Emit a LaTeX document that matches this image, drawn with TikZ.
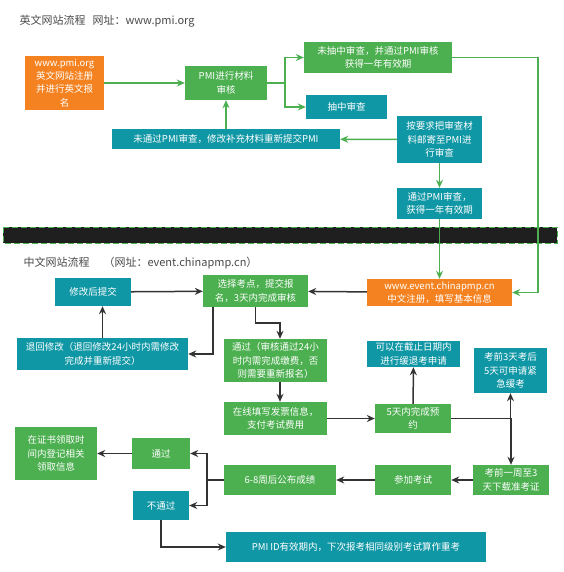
\documentclass[tikz,border=0pt]{standalone}
\usepackage{fontspec}
\setmainfont{Noto Sans CJK SC}
\usetikzlibrary{arrows.meta}
\definecolor{boxgreen}{HTML}{4CAF50}
\definecolor{boxteal}{HTML}{1097A5}
\definecolor{boxorange}{HTML}{F58220}
\definecolor{linegray}{HTML}{333333}
\definecolor{titlegray}{HTML}{4A4A4A}
\tikzset{
  flowbox/.style={rectangle, text=white, align=center, inner sep=1pt,
    font=\fontsize{9.5}{13.3}\selectfont},
  gbox/.style={flowbox, fill=boxgreen},
  tbox/.style={flowbox, fill=boxteal},
  obox/.style={flowbox, fill=boxorange},
  title/.style={anchor=west, text=titlegray, font=\fontsize{11}{13}\selectfont},
  glink/.style={draw=boxgreen, line width=1.5pt, -{Stealth[length=8pt,width=7pt]}},
  klink/.style={draw=linegray, line width=1.5pt, -{Stealth[length=8pt,width=7pt]}},
}
\begin{document}
\begin{tikzpicture}[x=1pt,y=-1pt]
      \useasboundingbox[fill=white] (0,0) rectangle (563,572);
      % english site
      \node[title] (entitle) at (16,21) {英文网站流程\hspace{7pt}网址：www.pmi.org};
      \node[obox, minimum width=79, minimum height=54] (reg) at (64.5,83)
        {www.pmi.org\\英文网站注册\\并进行英文报\\名};
      \node[gbox, minimum width=82, minimum height=34] (audit) at (226,83)
        {PMI进行材料\\审核};
      \node[gbox, minimum width=148, minimum height=31] (pass1) at (378,57.5)
        {未抽中审查，并通过PMI审核\\获得一年有效期};
      \node[tbox, minimum width=81, minimum height=24] (pick) at (346.5,107)
        {抽中审查};
      \node[tbox, minimum width=228, minimum height=20] (fail1) at (226,139)
        {未通过PMI审查，修改补充材料重新提交PMI};
      \node[tbox, minimum width=85, minimum height=47] (mail) at (439.5,139.5)
        {按要求把审查材\\料邮寄至PMI进\\行审查};
      \node[tbox, minimum width=85, minimum height=31] (pass2) at (439.5,203.5)
        {通过PMI审查，\\获得一年有效期};
      % divider
      \fill[black!88] (3,227) rectangle (557,243);
      \draw[boxgreen, line width=1pt, dash pattern=on 6pt off 3pt] (3,227) rectangle (557,243);
      % chinese site
      \node[title] (cntitle) at (20,263) {中文网站流程\hspace{14pt}（网址：event.chinapmp.cn）};
      \node[obox, minimum width=145, minimum height=27] (creg) at (439.5,292.5)
        {www.event.chinapmp.cn\\中文注册，填写基本信息};
      \node[gbox, minimum width=105, minimum height=32] (select) at (255.5,291)
        {选择考点，提交报\\名，3天内完成审核};
      \node[tbox, minimum width=76, minimum height=28] (resub) at (93,292)
        {修改后提交};
      \node[tbox, minimum width=171, minimum height=32] (back) at (102.5,354)
        {退回修改（退回修改24小时内需修改\\完成并重新提交）};
      \node[gbox, minimum width=103, minimum height=43] (ok) at (275.5,360.5)
        {通过（审核通过24小\\时内需完成缴费，否\\则需要重新报名）};
      \node[gbox, minimum width=103, minimum height=33] (invoice) at (275.5,418.5)
        {在线填写发票信息，\\支付考试费用};
      \node[gbox, minimum width=76, minimum height=29] (book) at (413,418.5)
        {5天内完成预\\约};
      \node[tbox, minimum width=93, minimum height=26] (defer) at (413.5,354)
        {可以在截止日期内\\进行缓退考申请};
      \node[tbox, minimum width=73, minimum height=45] (urgent) at (510.5,370.5)
        {考前3天考后\\5天可申请紧\\急缓考};
      \node[gbox, minimum width=76, minimum height=30] (ticket) at (511,480)
        {考前一周至3\\天下载准考证};
      \node[gbox, minimum width=76, minimum height=30] (exam) at (413,480)
        {参加考试};
      \node[gbox, minimum width=112, minimum height=30] (score) at (280,480)
        {6-8周后公布成绩};
      \node[gbox, minimum width=58, minimum height=31] (passed) at (161,453.5)
        {通过};
      \node[tbox, minimum width=56, minimum height=29] (failed) at (161,505.5)
        {不通过};
      \node[gbox, minimum width=82, minimum height=53] (cert) at (56,453.5)
        {在证书领取时\\间内登记相关\\领取信息};
      \node[tbox, minimum width=260, minimum height=30] (retake) at (356,547)
        {PMI ID有效期内，下次报考相同级别考试算作重考};
      \begin{scope}[glink]
        \draw (reg) to (audit);
        \draw (audit.east) -- ++(18,0) |- (pass1.west);
        \draw (audit.east) -- ++(18,0) |- (pick.west);
        \draw (fail1) to (audit);
        \draw (mail) to (fail1);
        \draw (mail) to (pass2);
        \draw (pass2) to (creg);
        \draw (pass1.east) -- ++(86,0) |- (creg.east);
      \end{scope}
      \begin{scope}[klink]
        \draw (creg) to (select);
        \draw (resub) to (select);
        \draw (back.north) -- (back.north |- resub.south);
        \draw ([xshift=-42.5]select.south) |- (back.east);
        \draw (select.south) -- ++(0,16) -| ([xshift=4.5]ok.north);
        \draw ([xshift=4.5]ok.south) -- ([xshift=4.5]invoice.north);
        \draw (invoice) to (book);
        \draw (book) to (defer);
        \draw (book.east) -| (urgent.south);
        \draw (book.east) -| (ticket.north);
        \draw (ticket) to (exam);
        \draw (exam) to (score);
        \draw (score.west) -- ++(-17,0) |- (passed.east);
        \draw (score.west) -- ++(-17,0) |- (failed.east);
        \draw (passed) to (cert);
        \draw (failed.south) |- (retake.west);
      \end{scope}
    \end{tikzpicture}
\end{document}
